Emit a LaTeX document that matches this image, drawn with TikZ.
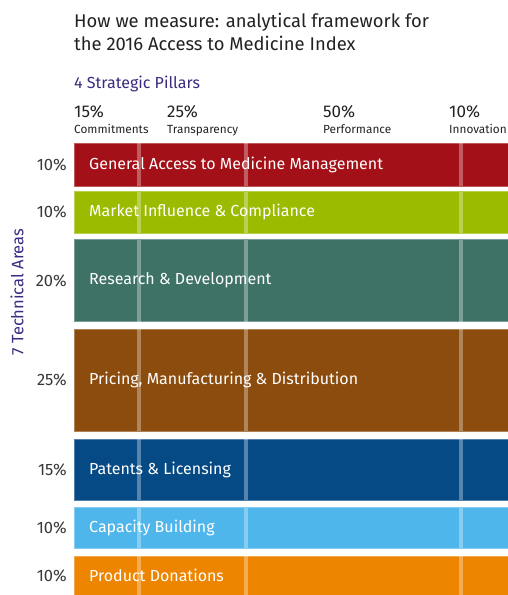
\documentclass[tikz,border=0pt]{standalone}
\usepackage{fontspec}
\setmainfont{Fira Sans}
\definecolor{ink}{HTML}{222222}
\definecolor{pillarpurple}{HTML}{3B2A80}
\definecolor{cRed}{HTML}{A41017}
\definecolor{cGreen}{HTML}{9BBB00}
\definecolor{cTeal}{HTML}{3E7267}
\definecolor{cBrown}{HTML}{8B4C0D}
\definecolor{cNavy}{HTML}{064A85}
\definecolor{cSky}{HTML}{4FB6EC}
\definecolor{cOrange}{HTML}{EE8500}
\tikzset{
  bar/.style={fill=#1, draw=#1!70!white, line width=0.6pt},
  stripe/.style={fill=white, fill opacity=0.32, draw=none},
  barlabel/.style={anchor=west, text=white, font=\fontsize{16}{19}\selectfont, inner sep=0pt},
  share/.style={anchor=east, text=ink!90, font=\fontsize{16.5}{19}\selectfont, inner sep=0pt},
  pillarpct/.style={anchor=base west, text=ink, font=\fontsize{17}{20}\selectfont, inner sep=0pt},
  pillarname/.style={anchor=base west, text=ink, font=\fontsize{11.8}{14}\selectfont, inner sep=0pt},
  heading/.style={anchor=base west, text=ink, font=\fontsize{18.4}{22}\selectfont, inner sep=0pt},
}
\begin{document}
\begin{tikzpicture}[x=1pt,y=-1pt]
\useasboundingbox (0,0) rectangle (508,595);

% title
\node[heading] (t1) at (74,27) {How we measure: analytical framework for};
\node[heading] (t2) at (74,50) {the 2016 Access to Medicine Index};

% pillar header
\node[anchor=base west, inner sep=0pt, text=pillarpurple, font=\fontsize{16}{19}\selectfont] (sp) at (74,88) {4 Strategic Pillars};
\node[pillarpct] (p1) at (74,117) {15\%};
\node[pillarpct] (p2) at (167,117) {25\%};
\node[pillarpct] (p3) at (323,117) {50\%};
\node[pillarpct] (p4) at (449,117) {10\%};
\node[pillarname] (n1) at (74,133) {Commitments};
\node[pillarname] (n2) at (167,133) {Transparency};
\node[pillarname] (n3) at (323,133) {Performance};
\node[pillarname] (n4) at (449,133) {Innovation};

% technical areas axis label
\node[rotate=90, inner sep=0pt, text=pillarpurple, font=\fontsize{16.5}{19}\selectfont] (ta) at (17,292) {7 Technical Areas};

% technical area bars: top, bottom, colour, share, name
\foreach \top/\bot/\col/\pct/\name [count=\i] in {
  143/186/cRed/10/General Access to Medicine Management,
  191.5/233/cGreen/10/Market Influence \& Compliance,
  239.5/321.5/cTeal/20/Research \& Development,
  329/431/cBrown/25/{Pricing, Manufacturing \& Distribution},
  439/500/cNavy/15/Patents \& Licensing,
  507.5/548/cSky/10/Capacity Building,
  556/595/cOrange/10/Product Donations}{
  \path[bar=\col] (74,\top) rectangle (508,\bot);
  \foreach \sx in {138.7,246.4,461.2}{
    \path[stripe] (\sx-2,\top) rectangle (\sx+2,\bot);
  }
  \node[barlabel] (area\i) at (89,{(\top+\bot)/2}) {\name};
  \node[share] (share\i) at (67,{(\top+\bot)/2}) {\pct\%};
}
\end{tikzpicture}
\end{document}
